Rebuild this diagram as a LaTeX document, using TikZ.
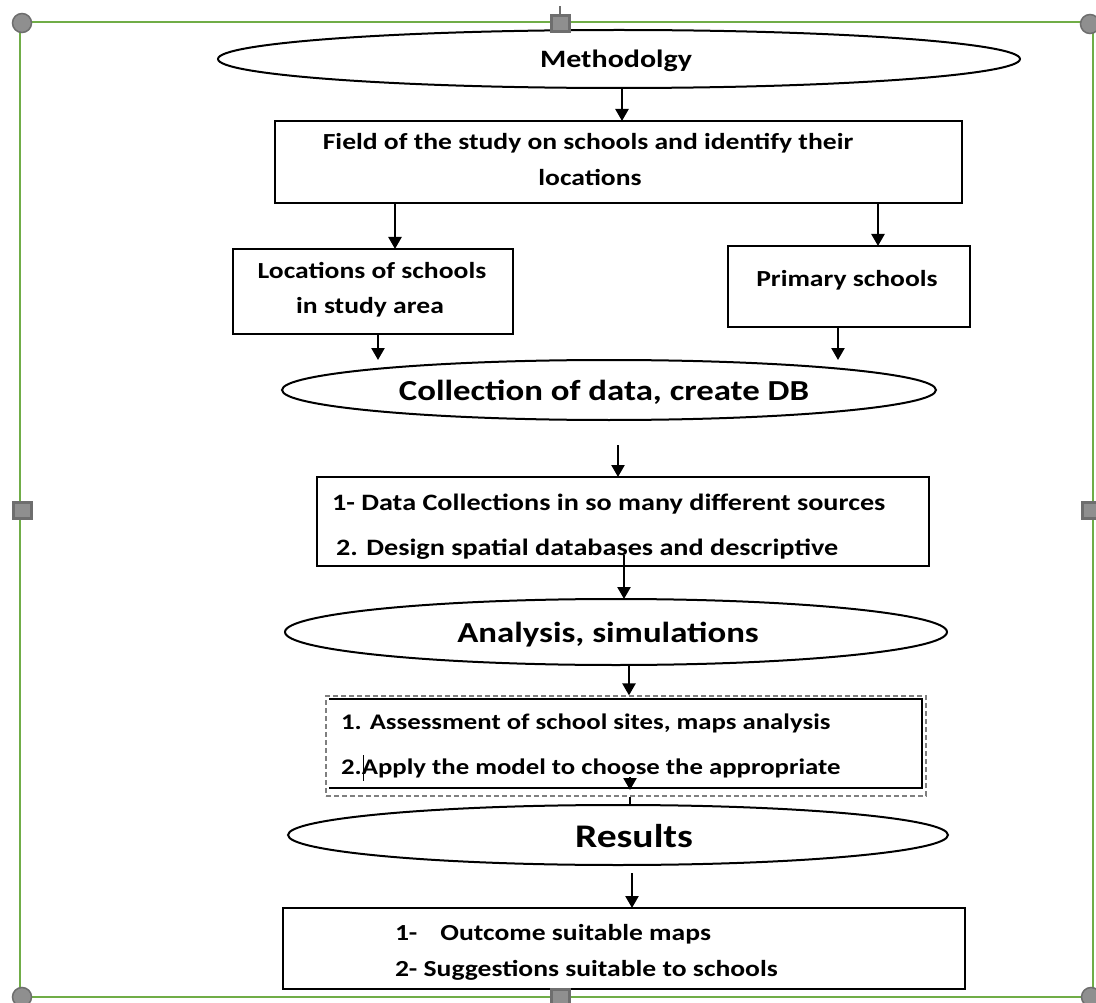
\documentclass[tikz,border=0pt]{standalone}
\usepackage{fontspec}
\setmainfont{Carlito}[FakeStretch=1.2]
\usetikzlibrary{arrows.meta,shapes.geometric,calc}
\definecolor{framegreen}{HTML}{70AD47}
\definecolor{handlefill}{HTML}{8F8F8F}
\definecolor{handledraw}{HTML}{6E6E6E}
\definecolor{dashgray}{HTML}{7F7F7F}
\begin{document}
\begin{tikzpicture}[x=1pt,y=-1pt,
  rectbox/.style={draw=black,line width=2.8pt,inner sep=0pt,outer sep=0pt},
  oval/.style={draw=black,ellipse,line width=2pt,inner sep=0pt,outer sep=0pt},
  arr/.style={line width=2.4pt,-{Triangle[width=13pt,length=12pt]}},
  txt/.style={inner sep=0pt,outer sep=0pt,font=\fontsize{22.3}{27}\selectfont\bfseries},
  btxt/.style={inner sep=0pt,outer sep=0pt,font=\fontsize{23}{27}\selectfont\bfseries},
  bigtxt/.style={inner sep=0pt,outer sep=0pt,font=\fontsize{29}{36}\selectfont\bfseries},
  cornerh/.style={circle,fill=handlefill,draw=handledraw,line width=1.5pt,minimum size=19pt,inner sep=0pt},
  midh/.style={rectangle,fill=handlefill,draw=handledraw,line width=3pt,minimum width=18pt,minimum height=16pt,inner sep=0pt}
]
\useasboundingbox (0,0) rectangle (1096,1003);
\fill[white] (0,0) rectangle (1096,1003);
% frame
\draw[framegreen,line width=2.6pt] (20,22) rectangle (1093,997);

% shapes
\node[oval,minimum width=802pt,minimum height=58pt] (E1) at (619,59) {};
\node[btxt,font=\fontsize{25}{30}\selectfont\bfseries,anchor=base] (t1) at (616,68) {Methodolgy};

\node[rectbox,minimum width=687pt,minimum height=82pt] (B1) at (618.5,162) {};
\node[btxt,anchor=base] (t2a) at (588,150) {Field of the study on schools and identify their};
\node[btxt,anchor=base] (t2b) at (590,186) {locations};

\node[rectbox,minimum width=280pt,minimum height=85pt] (L) at (373,291.5) {};
\node[btxt,anchor=base] (t3a) at (372,279) {Locations of schools};
\node[btxt,anchor=base] (t3b) at (370,314) {in study area};

\node[rectbox,minimum width=242pt,minimum height=81pt] (P) at (849,286.5) {};
\node[btxt,anchor=base] (t4) at (847,287) {Primary schools};

\node[oval,minimum width=654pt,minimum height=60pt] (E2) at (609,390) {};
\node[bigtxt,anchor=base] (t5) at (604,400) {Collection of data, create DB};

\node[rectbox,minimum width=612pt,minimum height=89pt] (B4) at (623,521.5) {};
\node[btxt,font=\fontsize{23.5}{27}\selectfont\bfseries,anchor=base west] (t6a) at (332,510) {1- Data Collections in so many different sources};
\node[btxt,font=\fontsize{23.5}{27}\selectfont\bfseries,anchor=base west] (t6b) at (336,555) {2. Design spatial databases and descriptive};

\node[oval,minimum width=662pt,minimum height=66pt] (E3) at (616,632) {};
\node[bigtxt,anchor=base] (t7) at (608,642) {Analysis, simulations};

\node[draw=dashgray,line width=1.2pt,dash pattern=on 5pt off 3pt,minimum width=600pt,minimum height=100pt,inner sep=0pt] (D) at (626,746) {};
\draw[line width=2.8pt] (329,699) -- (922,699) -- (922,788) -- (329,788);
\node[txt,anchor=base west] (t8a) at (341,729) {1. Assessment of school sites, maps analysis};
\node[txt,anchor=base west] (t8b) at (341,774) {2.Apply the model to choose the appropriate};
\draw[line width=1pt] (363,755) -- (363,781);

\node[oval,minimum width=660pt,minimum height=60pt] (E4) at (618,835) {};
\node[bigtxt,font=\fontsize{33}{38}\selectfont\bfseries,anchor=base] (t9) at (634,847) {Results};

\node[rectbox,minimum width=682pt,minimum height=81pt] (B5) at (624,948.5) {};
\node[btxt,anchor=base west] (t10a) at (395,940) {1-\hspace{23pt}Outcome suitable maps};
\node[btxt,anchor=base west] (t10b) at (395,976) {2- Suggestions suitable to schools};

% connector x positions
\coordinate (x1) at (622,0);
\coordinate (x2) at (395,0);
\coordinate (x3) at (878,0);
\coordinate (x4) at (378,0);
\coordinate (x5) at (838,0);
\coordinate (s6) at (618,445);
\coordinate (x7) at (624,0);
\coordinate (x8) at (629,0);
\coordinate (s9) at (630,777);
\coordinate (s10) at (632,873);

\draw[arr] (E1.south -| x1) -- (B1.north -| x1);
\draw[arr] (B1.south -| x2) -- (L.north -| x2);
\draw[arr] (B1.south -| x3) -- (P.north -| x3);
\draw[arr] (L.south -| x4) -- (E2.north -| x4);
\draw[arr] (P.south -| x5) -- (E2.north -| x5);
\draw[arr] (s6) -- (B4.north -| s6);
\draw[arr] (t6b.base -| x7) -- (E3.north -| x7);
\draw[arr] (E3.south -| x8) -- (D.north -| x8);
\draw[line width=2pt] (D.south -| s9) -- (E4.north -| s9);
\draw[arr] (s9) -- ++(0,13);
\draw[arr] (s10) -- (B5.north -| s10);

% selection handles
\node[cornerh] (h1) at (22,23) {};
\node[midh] (h2) at (560,24) {};
\draw[handledraw,line width=2pt] (h2.north) -- ++(0,-8);
\node[cornerh] (h3) at (1090,24) {};
\node[midh] (h4) at (22,510) {};
\node[midh] (h5) at (1091,510) {};
\node[cornerh] (h6) at (22,997) {};
\node[midh] (h7) at (560,997) {};
\node[cornerh] (h8) at (1091,997) {};
\end{tikzpicture}
\end{document}
